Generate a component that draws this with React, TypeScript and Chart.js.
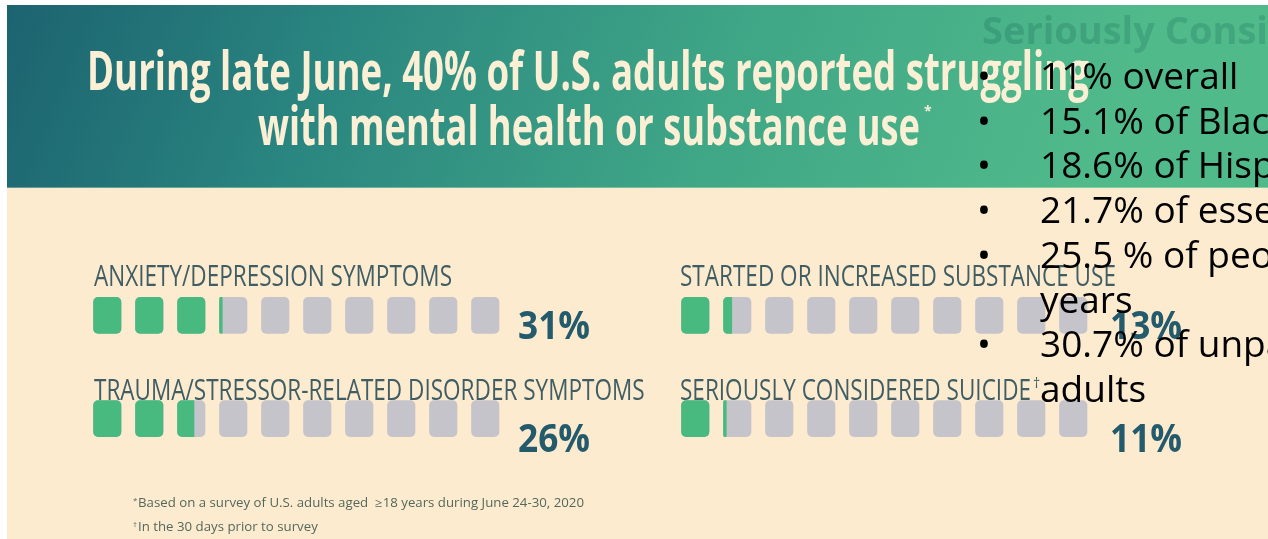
import React, { useEffect, useRef } from "react";
import { Chart, registerables } from "chart.js";

Chart.register(...registerables);

// ---------- data ----------
const categories = [
  "ANXIETY/DEPRESSION SYMPTOMS",
  "TRAUMA/STRESSOR-RELATED DISORDER SYMPTOMS",
  "STARTED OR INCREASED SUBSTANCE USE",
  "SERIOUSLY CONSIDERED SUICIDE",
];
const categoryMarks = ["", "", "", "†"];
const percentages = [31, 26, 13, 11];
const valueLabels = ["31%", "26%", "13%", "11%"];
const squaresPerRow = 10;
const percentPerSquare = 10;

const titleLines = [
  "During late June, 40% of U.S. adults reported struggling",
  "with mental health or substance use",
];
const titleMark = "*";

const overlayHeading = "Seriously Considered Suicide";
const overlayLines = [
  "11% overall",
  "15.1% of Black adults",
  "18.6% of Hispanic adults",
  "21.7% of essential workers",
  "25.5 % of people aged 18–24",
  "years",
  "30.7% of unpaid caregivers for",
  "adults",
];
const overlayBullets = [true, true, true, true, true, false, true, false];

const footnoteMarks = ["*", "†"];
const footnotes = [
  "Based on a survey of U.S. adults aged  ≥18 years during June 24-30, 2020",
  "In the 30 days prior to survey",
];

// ---------- layout (pixels / scale units) ----------
const W = 1268;
const H = 539;
const PITCH = 42; // px per square unit
const FIRST_SQUARE_PX = 93.5;
const X_MIN = -FIRST_SQUARE_PX / PITCH;
const X_MAX = X_MIN + W / PITCH;
const PANEL_OFFSET = 14; // squares
const SQUARE_W = 0.655;
const ROW_PITCH = 113.5;
const ROW1_CENTER = 320;
const Y_MIN = 1 - ROW1_CENTER / ROW_PITCH;
const Y_MAX = Y_MIN + H / ROW_PITCH;

const GREEN = "#48b97f";
const GRAY = "#c6c4cb";

function buildData() {
  const gray: any[] = [];
  const green: any[] = [];
  percentages.forEach((pct, i) => {
    const off = Math.floor(i / 2) * PANEL_OFFSET;
    const row = (i % 2) + 1;
    for (let j = 0; j < squaresPerRow; j++) {
      const start = off + j;
      gray.push({ x: [start, start + SQUARE_W], y: row });
      const f = Math.max(0, Math.min(1, (pct - j * percentPerSquare) / percentPerSquare));
      if (f > 0) green.push({ x: [start, start + SQUARE_W * f], y: row, full: f >= 1 });
    }
  });
  return { gray, green };
}

function drawText(
  ctx: CanvasRenderingContext2D,
  text: string,
  x: number,
  y: number,
  font: string,
  color: string,
  sx = 1
) {
  ctx.save();
  ctx.font = font;
  ctx.fillStyle = color;
  ctx.textAlign = "left";
  ctx.textBaseline = "alphabetic";
  ctx.translate(x, y);
  ctx.scale(sx, 1);
  ctx.fillText(text, 0, 0);
  const w = ctx.measureText(text).width * sx;
  ctx.restore();
  return w;
}

function measure(ctx: CanvasRenderingContext2D, text: string, font: string) {
  ctx.save();
  ctx.font = font;
  const w = ctx.measureText(text).width;
  ctx.restore();
  return w;
}

const backgroundPlugin = {
  id: "infographicBackground",
  beforeDraw(chart: any) {
    const ctx = chart.ctx as CanvasRenderingContext2D;
    ctx.save();
    ctx.fillStyle = "#ffffff";
    ctx.fillRect(0, 0, W, H);
    ctx.fillStyle = "#fdebd0";
    ctx.fillRect(7, 188, W - 7, H - 188);
    const g = ctx.createLinearGradient(7, 5, 1000, 400);
    g.addColorStop(0, "#1c6370");
    g.addColorStop(0.3, "#2a8680");
    g.addColorStop(0.65, "#3fa686");
    g.addColorStop(1, "#50ba8b");
    ctx.fillStyle = g;
    ctx.fillRect(7, 5, W - 7, 183);
    ctx.fillStyle = "rgba(240,235,200,0.35)";
    ctx.fillRect(7, 187, W - 7, 2);
    ctx.restore();
  },
};

const textPlugin = {
  id: "infographicText",
  afterDraw(chart: any) {
    const ctx = chart.ctx as CanvasRenderingContext2D;

    // title
    const tFont = "bold 54px 'Open Sans'";
    const tsx = 662 / measure(ctx, titleLines[1], tFont);
    drawText(ctx, titleLines[0], 87, 90, tFont, "#fbf0d6", tsx * 1.01);
    const w2 = drawText(ctx, titleLines[1], 258, 145, tFont, "#fbf0d6", tsx);
    drawText(ctx, titleMark, 258 + w2 + 4, 116, "bold 14px 'Open Sans'", "#fbf0d6");

    // category labels
    const lFont = "30px 'Open Sans'";
    const lsx = 358 / measure(ctx, categories[0], lFont);
    const pFont = "bold 40px 'Open Sans'";
    const psx = 72 / measure(ctx, valueLabels[0], pFont);
    categories.forEach((c, i) => {
      const panel = Math.floor(i / 2);
      const row = i % 2;
      const lx = panel === 0 ? 94 : 680;
      const ly = row === 0 ? 286 : 400;
      const w = drawText(ctx, c, lx, ly, lFont, "#3f5d62", lsx);
      if (categoryMarks[i]) drawText(ctx, categoryMarks[i], lx + w + 2, ly - 12, "14px 'Open Sans'", "#3f5d62");
      const px = panel === 0 ? 518 : 1110;
      const py = row === 0 ? 339 : 452;
      drawText(ctx, valueLabels[i], px, py, pFont, "#235b6c", psx);
    });

    // footnotes
    const fFont = "12px 'Open Sans'";
    const fsx = 446 / measure(ctx, footnotes[0], fFont);
    footnotes.forEach((t, i) => {
      const y = 507 + i * 24;
      drawText(ctx, footnoteMarks[i], 133, y - 4, "8px 'Open Sans'", "#52685a");
      drawText(ctx, t, 138, y, fFont, "#52685a", fsx);
    });

    // overlay text box
    drawText(ctx, overlayHeading, 982, 44, "bold 38px 'Open Sans'", "rgba(25,105,85,0.26)");
    const oFont = "37px 'Open Sans'";
    overlayLines.forEach((t, i) => {
      const y = 89 + i * 44.7;
      if (overlayBullets[i]) drawText(ctx, "•", 977, y, oFont, "#000000");
      drawText(ctx, t, 1040, y, oFont, "#000000");
    });
  },
};

export default function App() {
  const ref = useRef<HTMLCanvasElement | null>(null);
  useEffect(() => {
    if (!ref.current) return;
    const { gray, green } = buildData();
    const chart = new Chart(ref.current, {
      type: "bar",
      data: {
        datasets: [
          {
            label: "Share reporting",
            data: green as any,
            backgroundColor: GREEN,
            borderSkipped: false,
            borderRadius: (c: any) =>
              c.raw && c.raw.full ? 5 : { topLeft: 5, bottomLeft: 5, topRight: 0, bottomRight: 0 },
            grouped: false,
            barThickness: 36,
          } as any,
          {
            label: "Scale",
            data: gray as any,
            backgroundColor: GRAY,
            borderSkipped: false,
            borderRadius: 5,
            grouped: false,
            barThickness: 36,
          } as any,
        ],
      },
      options: {
        indexAxis: "y",
        animation: false,
        responsive: false,
        maintainAspectRatio: false,
        events: [],
        layout: { padding: 0 },
        scales: {
          x: { type: "linear", display: false, min: X_MIN, max: X_MAX },
          y: { type: "linear", display: false, min: Y_MIN, max: Y_MAX, reverse: true },
        },
        plugins: { legend: { display: false }, tooltip: { enabled: false }, title: { display: false } },
      },
      plugins: [backgroundPlugin, textPlugin],
    });
    return () => chart.destroy();
  }, []);
  return (
    <div style={{ position: "fixed", left: 0, top: 0, width: W, height: H, overflow: "hidden", background: "#fff" }}>
      <canvas ref={ref} width={W} height={H} style={{ display: "block", width: W, height: H }} />
    </div>
  );
}
